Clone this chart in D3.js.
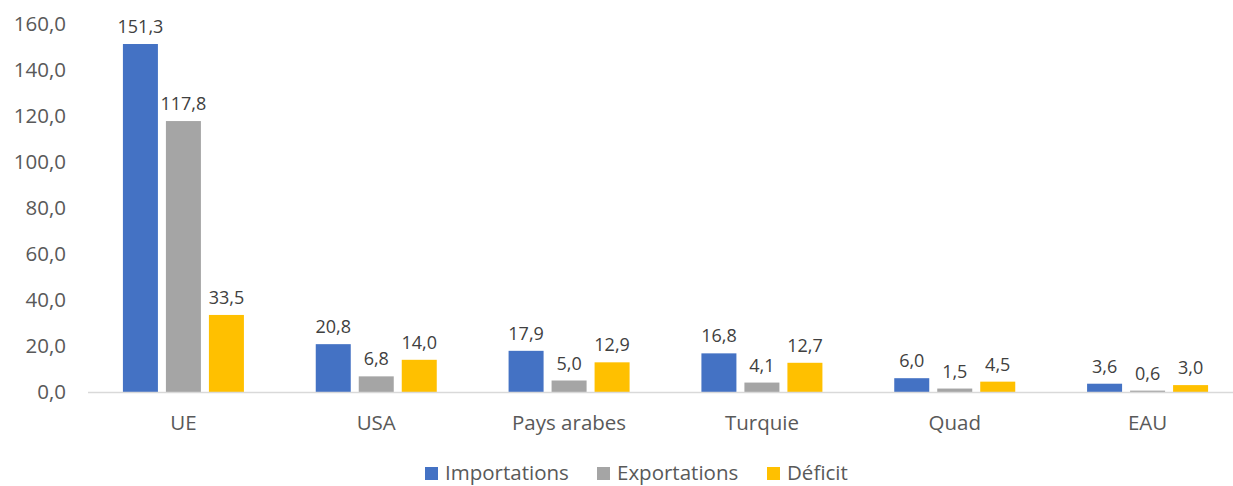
<!doctype html>
<html lang="fr">
  <head>
    <meta charset="UTF-8" />
    <title>Commerce</title>
    <script src="https://d3js.org/d3.v7.min.js"></script>
    <style>
      body { margin: 0; background: #fff; }
      svg text { font-family: "Open Sans", sans-serif; }
      .tick-label { font-size: 20.5px; fill: #595959; }
      .val { font-size: 18px; fill: #404040; }
      .cat { font-size: 20.5px; fill: #595959; }
      .leg { font-size: 20.5px; fill: #595959; }
    </style>
  </head>
  <body>
    <div id="chart"></div>
    <script>
      // Data
      const categories = ['UE', 'USA', 'Pays arabes', 'Turquie', 'Quad', 'EAU'];
      const series = ['Importations', 'Exportations', 'Déficit'];
      const importations = [151.3, 20.8, 17.9, 16.8, 6.0, 3.6];
      const exportations = [117.8, 6.8, 5.0, 4.1, 1.5, 0.6];
      const deficit = [33.5, 14.0, 12.9, 12.7, 4.5, 3.0];
      const yTicks = [0, 20, 40, 60, 80, 100, 120, 140, 160];
      const colors = ['#4472c4', '#a5a5a5', '#ffc000'];

      const W = 1233, H = 486;
      const values = [importations, exportations, deficit];
      const fmt = (v) => v.toFixed(1).replace('.', ',');

      const svg = d3.select('#chart').append('svg')
        .attr('width', W).attr('height', H);

      const x = d3.scaleBand().domain(categories).range([87, 1244]);
      const xs = d3.scaleBand().domain(series).range([0, 121]).paddingInner(0.186);
      const y = d3.scaleLinear().domain([0, 160]).range([392, 24]);

      // Y axis labels (no gridlines)
      svg.append('g').selectAll('text').data(yTicks).enter().append('text')
        .attr('class', 'tick-label')
        .attr('x', 66)
        .attr('y', (d) => y(d))
        .attr('dy', '0.35em')
        .attr('text-anchor', 'end')
        .text((d) => fmt(d));

      // Bars
      const groups = svg.append('g').selectAll('g').data(categories).enter().append('g')
        .attr('transform', (d) => 'translate(' + (x(d) + x.bandwidth() / 2 - 60.5) + ',0)');

      groups.selectAll('rect')
        .data((c, i) => series.map((s, j) => ({ s: s, v: values[j][i], j: j })))
        .enter().append('rect')
        .attr('x', (d) => xs(d.s))
        .attr('y', (d) => y(d.v))
        .attr('width', xs.bandwidth())
        .attr('height', (d) => y(0) - y(d.v))
        .attr('fill', (d) => colors[d.j]);

      groups.selectAll('text.val')
        .data((c, i) => series.map((s, j) => ({ s: s, v: values[j][i] })))
        .enter().append('text')
        .attr('class', 'val')
        .attr('x', (d) => xs(d.s) + xs.bandwidth() / 2)
        .attr('y', (d) => y(d.v) - 11)
        .attr('text-anchor', 'middle')
        .text((d) => fmt(d.v));

      // X axis baseline
      svg.append('line')
        .attr('x1', 88).attr('x2', W)
        .attr('y1', y(0) + 0.5).attr('y2', y(0) + 0.5)
        .attr('stroke', '#d9d9d9').attr('stroke-width', 1.5);

      // Category labels
      svg.append('g').selectAll('text').data(categories).enter().append('text')
        .attr('class', 'cat')
        .attr('x', (d) => x(d) + x.bandwidth() / 2)
        .attr('y', 430)
        .attr('text-anchor', 'middle')
        .text((d) => d);

      // Legend
      const legX = [425, 597, 767];
      const leg = svg.append('g').selectAll('g').data(series).enter().append('g')
        .attr('transform', (d, i) => 'translate(' + legX[i] + ',467)');
      leg.append('rect')
        .attr('width', 13).attr('height', 13)
        .attr('fill', (d, i) => colors[i]);
      leg.append('text')
        .attr('class', 'leg')
        .attr('x', 20).attr('y', 13)
        .text((d) => d);
    </script>
  </body>
</html>
